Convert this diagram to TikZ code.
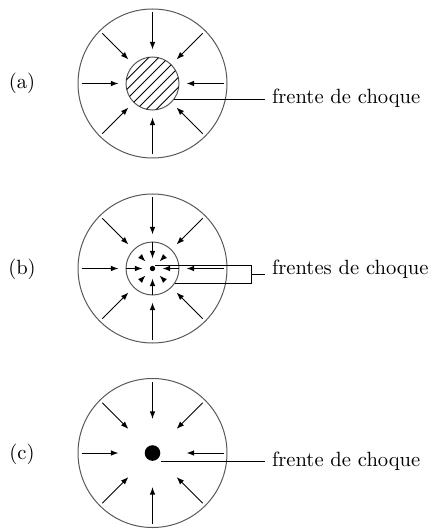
\documentclass[tikz,border=0pt]{standalone}
\usepackage{tikz}
\usetikzlibrary{arrows.meta,positioning,calc}
\tikzset{
  shell/.style  = {draw, gray!70!black, line width=0.5pt, circle,
                   inner sep=0pt, minimum size=74.5pt},
  core/.style   = {draw, gray!70!black, line width=0.5pt, circle,
                   inner sep=0pt, minimum size=26.5pt},
  flow/.style   = {-{Latex[length=3.8pt,width=2.8pt]}, line width=0.5pt},
  leader/.style = {line width=0.5pt},
  hatch/.style  = {line width=0.45pt},
  tag/.style    = {anchor=west},
}

\begin{document}
\begin{tikzpicture}[x=0.5pt,y=-0.5pt,font=\fontsize{10.3pt}{12pt}\selectfont]
\useasboundingbox (0,0) rectangle (435,529);
% ---- (a) shock front as a hatched sphere ----
\begin{scope}[shift={(152.5,83.5)}]
\node at (-130.5,0) (capA) {(a)};
\node[shell] (shellA) at (0,0) {};
\node[core] (coreA) at (0,0) {};
\begin{scope}
\clip (0,0) circle (26.5);
\foreach \s in {-21,-14,...,21}
  \draw[hatch] ({(\s-30)*0.7071},{(\s+30)*0.7071}) -- ({(\s+30)*0.7071},{(\s-30)*0.7071});
\end{scope}
\foreach \a in {0,45,...,315}
  \draw[flow] (\a:71) -- (\a:34);
\node[tag] (labA) at (112.5,14.5) {frente de choque};
\draw[leader] (coreA.-36) -- (coreA.-36 -| labA.west);
\end{scope}
% ---- (b) converging and reflected fronts ----
\begin{scope}[shift={(152.5,268.5)}]
\node at (-130.5,1) (capB) {(b)};
\node[shell] (shellB) at (0,0) {};
\node[core] (coreB) at (0,0) {};
\node[fill, circle, inner sep=0pt, minimum size=2.7pt] (dotB) at (0,0) {};
\foreach \a in {0,45,...,315}
  \draw[flow] (\a:71) -- (\a:34);
\foreach \a in {0,90,180,270}
  \draw[flow] (\a:26.5) -- (\a:10);
\foreach \a in {45,135,225,315}
  \draw[flow] (\a:16) -- (\a:10);
\coordinate (tapB) at (2.5,-3.5);
\coordinate (jogB) at (99.2,14.8);
\coordinate (elbowB) at (99.2,5.6);
\node[tag] (labB) at (112.5,0.5) {frentes de choque};
\draw[leader] (tapB) -| (jogB) |- (coreB.-34);
\draw[leader] (elbowB) -- (elbowB -| labB.west);
\end{scope}
% ---- (c) front collapsed to a point ----
\begin{scope}[shift={(152.5,453)}]
\node at (-130.5,1.5) (capC) {(c)};
\node[shell] (shellC) at (0,0) {};
\node[fill, circle, inner sep=0pt, minimum size=7.8pt] (dotC) at (0,0) {};
\foreach \a in {0,45,...,315}
  \draw[flow] (\a:71) -- (\a:34);
\node[tag] (labC) at (112.5,8) {frente de choque};
\draw[leader] (dotC.east |- dotC.south) -- (dotC.south -| labC.west);
\end{scope}
\end{tikzpicture}
\end{document}
